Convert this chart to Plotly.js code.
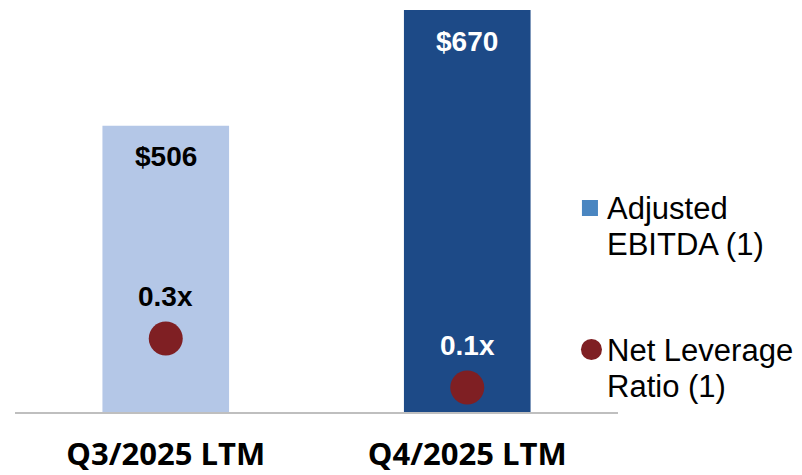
<!DOCTYPE html>
<html><head><meta charset="utf-8">
<script src="https://cdn.plot.ly/plotly-3.0.1.min.js"></script>
<style>html,body{margin:0;padding:0;background:#fff}#c{width:802px;height:475px}</style>
</head><body><div id="c"></div>
<script>
const categories = ["Q3/2025 LTM", "Q4/2025 LTM"];
const ebitda = [506, 670];
const ebitdaLabels = ["$506", "$670"];
const leverage = [0.3, 0.1];
const leverageLabels = ["0.3x", "0.1x"];
const legendNames = [["Adjusted", "EBITDA (1)"], ["Net Leverage", "Ratio (1)"]];

const barColors = ["#b4c7e7", "#1d4a87"];
const labelColors = ["#000000", "#ffffff"];
const dotColor = "#7f1f23";

const traces = [
  {type: "bar", x: categories, y: ebitda, marker: {color: barColors}, hoverinfo: "skip", showlegend: false},
  {type: "scatter", mode: "markers", x: categories, y: leverage, yaxis: "y2",
   marker: {color: dotColor, size: 34}, hoverinfo: "skip", showlegend: false}
];

const annotations = [];
categories.forEach((c, i) => {
  annotations.push({x: c, y: ebitda[i], xref: "x", yref: "y", text: "<b>" + ebitdaLabels[i] + "</b>",
    showarrow: false, yshift: -31, yanchor: "middle",
    font: {family: "Liberation Sans, Arial", size: 28, color: labelColors[i]}});
  annotations.push({x: c, y: leverage[i], xref: "x", yref: "y2", text: "<b>" + leverageLabels[i] + "</b>",
    showarrow: false, yshift: 42, yanchor: "middle",
    font: {family: "Liberation Sans, Arial", size: 28, color: labelColors[i]}});
});
// legend text (pixel -> paper)
const px = v => (v - 15) / 602;
const py = v => (412 - v) / 402;
const legendLines = [[208, 245], [350, 386]];
legendNames.forEach((lines, i) => {
  lines.forEach((t, j) => {
    annotations.push({x: px(604), y: py(legendLines[i][j]), xref: "paper", yref: "paper", text: t,
      showarrow: false, xanchor: "left", yanchor: "middle",
      font: {family: "Liberation Sans, Arial", size: 31, color: "#000"}});
  });
});

const shapes = [
  {type: "rect", xref: "paper", yref: "paper", x0: px(581), x1: px(597), y0: py(216), y1: py(200),
   fillcolor: "#4a86c1", line: {width: 0}},
  {type: "circle", xref: "paper", yref: "paper", x0: px(580), x1: px(601), y0: py(360), y1: py(339),
   fillcolor: dotColor, line: {width: 0}}
];

const layout = {
  width: 802, height: 475,
  margin: {l: 15, r: 184, t: 10, b: 63},
  paper_bgcolor: "#fff", plot_bgcolor: "#fff",
  bargap: 0.58,
  xaxis: {showline: true, linecolor: "#bfbfbf", linewidth: 2, ticks: "outside", ticklen: 14,
    tickcolor: "rgba(0,0,0,0)", showgrid: false, zeroline: false,
    tickfont: {family: "Open Sans", size: 31, color: "#000", weight: "bold"}},
  yaxis: {range: [100, 670], visible: false, showgrid: false, zeroline: false},
  yaxis2: {range: [0, 1.64], overlaying: "y", visible: false, showgrid: false, zeroline: false},
  annotations: annotations,
  shapes: shapes,
  showlegend: false
};
Plotly.newPlot("c", traces, layout, {staticPlot: true});
</script></body></html>
